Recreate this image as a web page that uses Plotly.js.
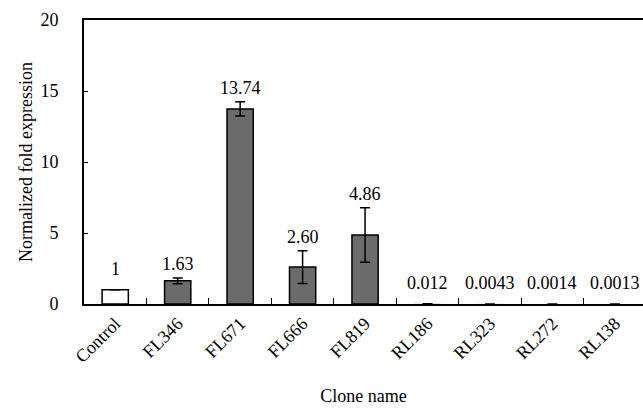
<!DOCTYPE html>
<html>
<head>
<meta charset="utf-8">
<script src="https://cdn.plot.ly/plotly-3.0.1.min.js"></script>
<style>html,body{margin:0;padding:0;background:#fff;}#chart{width:643px;height:414px;}</style>
</head>
<body>
<div id="chart"></div>
<script>
const categories = ["Control", "FL346", "FL671", "FL666", "FL819", "RL186", "RL323", "RL272", "RL138"];
const values = [1, 1.63, 13.74, 2.60, 4.86, 0.012, 0.0043, 0.0014, 0.0013];
const errors = [0, 0.2, 0.5, 1.15, 1.92, 0, 0, 0, 0];
const valueLabels = ["1", "1.63", "13.74", "2.60", "4.86", "0.012", "0.0043", "0.0014", "0.0013"];

const fills = categories.map(c => c === "Control" ? "#ffffff" : "#6b6b6b");
const lineWidths = values.map(v => v < 0.05 ? 0 : 1.5);
const font = {family: "Liberation Serif", size: 18, color: "#000"};

const trace = {
  type: "bar",
  x: categories,
  y: values,
  width: 0.42,
  marker: {color: fills, line: {color: "#000", width: lineWidths}},
  error_y: {type: "data", array: errors.map(e => e > 0 ? e : null), visible: true, color: "#000", thickness: 1.5, width: 5},
  hoverinfo: "none"
};

const annotations = categories.map((c, i) => ({
  x: c,
  y: values[i] + errors[i],
  xref: "x", yref: "y",
  text: valueLabels[i],
  showarrow: false,
  yanchor: "middle",
  yshift: errors[i] > 0 ? 14 : 21,
  font: font
}));

const layout = {
  width: 643, height: 414,
  margin: {l: 84, r: 0, t: 20, b: 110},
  paper_bgcolor: "#fff", plot_bgcolor: "#fff",
  showlegend: false,
  font: font,
  xaxis: {
    type: "category",
    range: [-0.5, 8.45],
    tickson: "boundaries",
    ticks: "inside", ticklen: 6, tickwidth: 1, tickcolor: "#000",
    tickangle: -45,
    showline: true, linecolor: "#000", linewidth: 2, mirror: true,
    showgrid: false, zeroline: false,
    tickfont: font,
    title: {text: "Clone name", font: font, standoff: 24}
  },
  yaxis: {
    range: [0, 20],
    tickvals: [0, 5, 10, 15, 20],
    ticks: "inside", ticklen: 4, tickwidth: 1, tickcolor: "#000",
    showline: true, linecolor: "#000", linewidth: 2,
    showgrid: false, zeroline: false,
    tickfont: font,
    ticklabelstandoff: 20,
    title: {text: "Normalized fold expression", font: font, standoff: 3}
  },
  annotations: annotations
};

Plotly.newPlot("chart", [trace], layout, {displayModeBar: false, staticPlot: true});
</script>
</body>
</html>
